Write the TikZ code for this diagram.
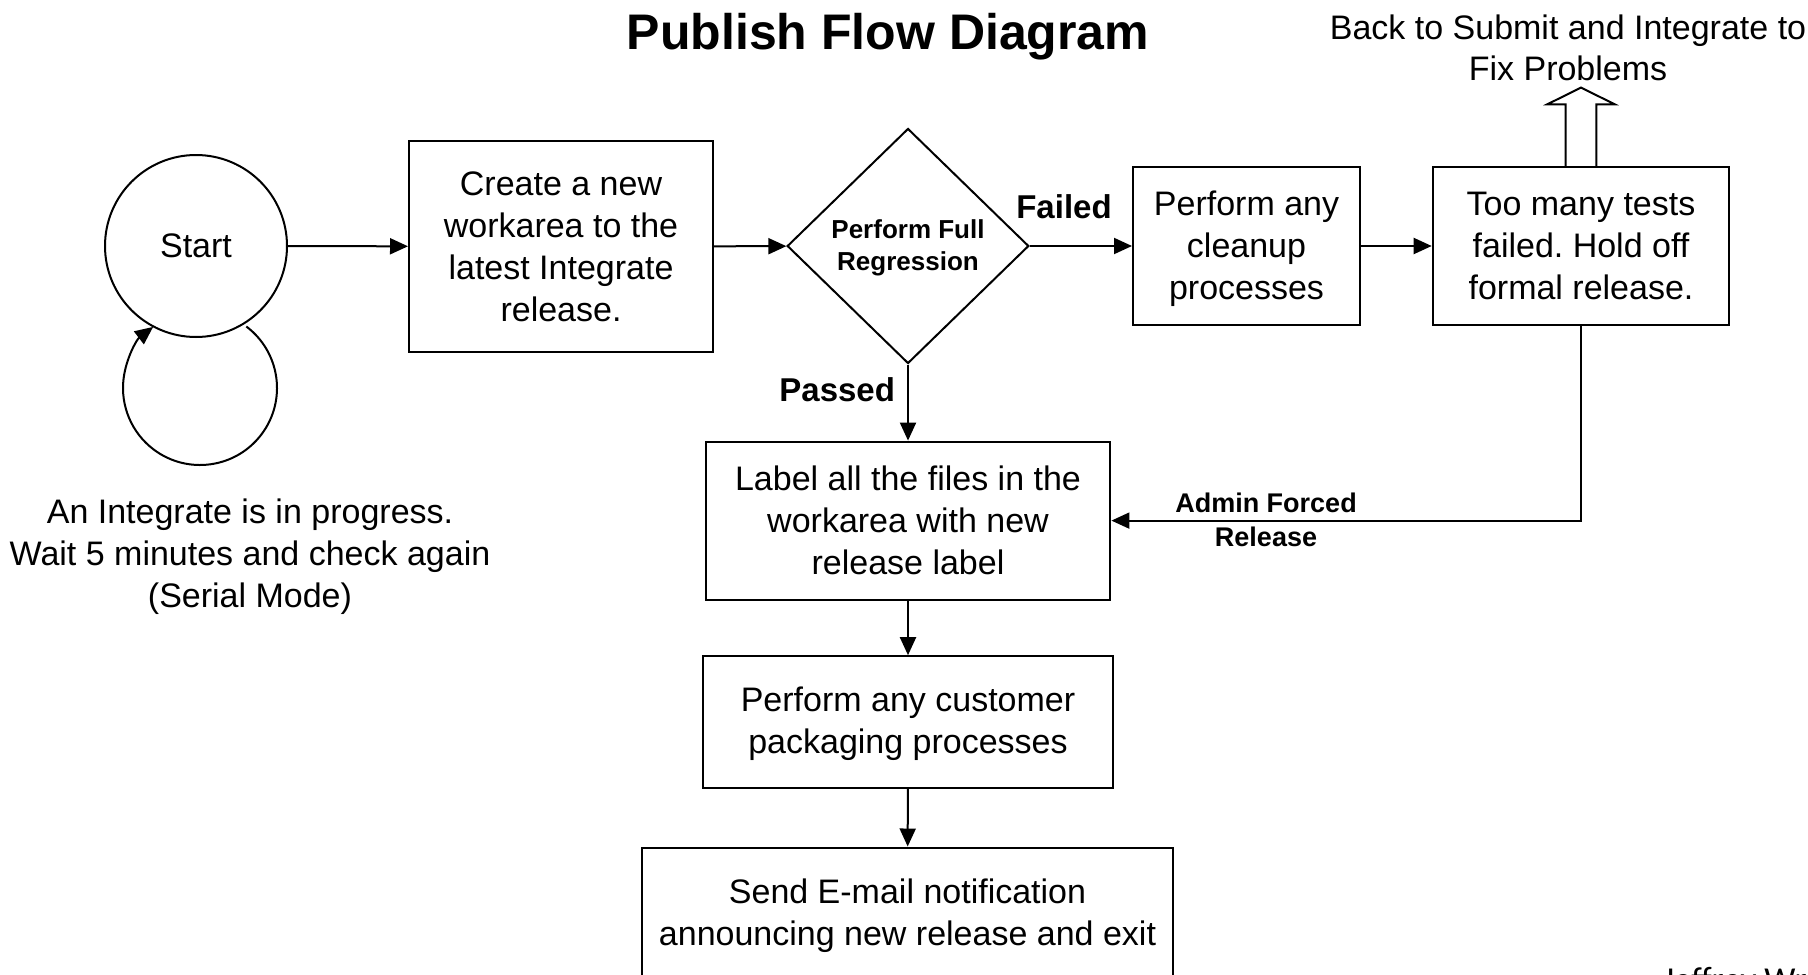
\documentclass[tikz,border=0pt]{standalone}
\usepackage{fontspec}
\setmainfont{Liberation Sans}
\newfontfamily\notefont{Carlito}
\usetikzlibrary{arrows.meta,shapes.geometric}
\frenchspacing

\begin{document}
\begin{tikzpicture}[x=0.5pt,y=-0.5pt,
  line width=1pt,
  txt/.style={font=\fontsize{17pt}{21pt}\selectfont, align=center, inner sep=0pt},
  procbox/.style={txt, draw, rectangle},
  decision/.style={draw, diamond, inner sep=0pt, align=center,
    font=\fontsize{13pt}{16pt}\selectfont\bfseries},
  edgelabel/.style={font=\fontsize{16.5pt}{20pt}\selectfont\bfseries, inner sep=0pt},
  smalllabel/.style={font=\fontsize{13.5pt}{17pt}\selectfont\bfseries, align=center, inner sep=0pt},
  arr/.style={-{Triangle[length=9pt,width=8pt]}}
]
\useasboundingbox (0,0) rectangle (1808,974);

% title
\node[font=\fontsize{25pt}{30pt}\selectfont\bfseries, inner sep=0pt] (title) at (888,37) {Publish Flow Diagram};

% process nodes
\node[txt, draw, circle, minimum size=91pt] (start) at (196,246) {Start};
\node[procbox, minimum width=152pt, minimum height=105.5pt] (create) at (561,246.5)
  {Create a new\\workarea to the\\latest Integrate\\release.};
\node[decision, minimum width=120.8pt, minimum height=117.5pt] (regr) at (908,246)
  {\rule{0pt}{11pt}Perform Full\\Regression};
\node[procbox, minimum width=113.5pt, minimum height=79pt] (cleanup) at (1246.5,246)
  {\rule{0pt}{15.4pt}Perform any\\cleanup\\processes};
\node[procbox, minimum width=148.3pt, minimum height=79pt] (toomany) at (1581,246)
  {Too many tests\\failed. Hold off\\formal release.};
\node[procbox, minimum width=202.4pt, minimum height=79pt] (label) at (908,520.6)
  {Label all the files in the\\workarea with new\\release label};
\node[procbox, minimum width=204.6pt, minimum height=65.8pt] (pack) at (908,722)
  {\rule{0pt}{14pt}Perform any customer\\packaging processes};
\node[procbox, minimum width=265.3pt, minimum height=68.5pt] (email) at (907.5,916)
  {Send E-mail notification\\announcing new release and exit};

% free texts
\node[txt] (waitnote) at (250,557)
  {An Integrate is in progress.\\Wait 5 minutes and check again\\(Serial Mode)};
\node[txt, font=\fontsize{17pt}{20.75pt}\selectfont] (backnote) at (1568,48)
  {Back to Submit and Integrate to\\Fix Problems};
\node[anchor=base west, inner sep=0pt, font=\notefont\fontsize{17.5pt}{21pt}\selectfont] (author) at (1662,991) {Jeffrey Wr};

% self loop below the start node
\coordinate (loopc) at (200,388);
\draw[arr] (loopc) ++(-53:77) arc[start angle=-53, end angle=232.5, radius=77];

% main flow
\draw[arr] (start) -- (create);
\draw[arr] (create) -- (regr);
\draw[arr] (regr.east) -- (cleanup.west);
\node[edgelabel] (failed) at (1064,207) {Failed};
\draw[arr] (cleanup) -- (toomany);
\draw[arr] (regr.south) -- (label.north);
\node[edgelabel, anchor=east] (passed) at ([xshift=-6pt]regr.south |- 0,390) {Passed};
\draw[arr] (label) -- (pack);
\draw[arr] (pack) -- (email);

% forced release path
\draw[arr] (toomany.south) |- (label.east);
\node[smalllabel] (admin) at (1266,503) {Admin Forced};
\node[smalllabel] (rel) at (1266,537) {Release};

% hollow return arrow
\draw (toomany.north) ++(-15.3,0) -- ++(0,-61.7) -- ++(-18.4,0) -- ++(33.7,-16.7)
  -- ++(33.7,16.7) -- ++(-18.4,0) -- ++(0,61.7);
\end{tikzpicture}
\end{document}
